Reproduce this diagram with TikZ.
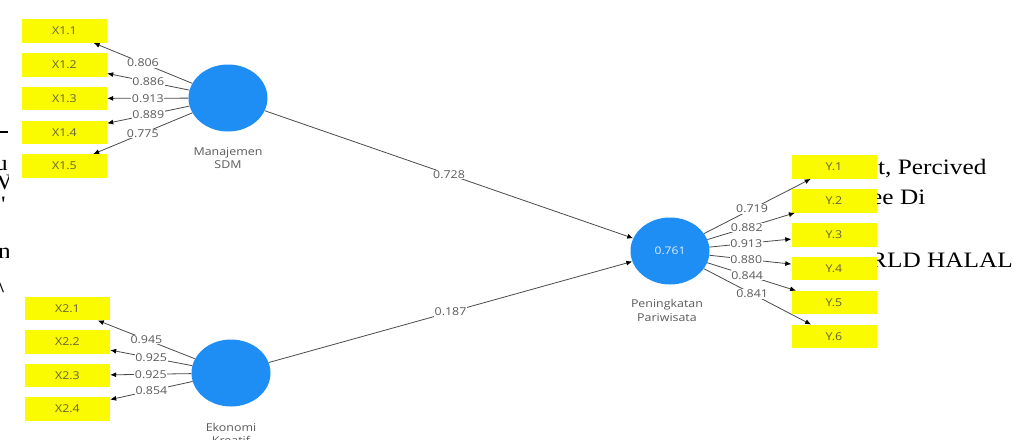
\documentclass[tikz,border=0pt]{standalone}
\usepackage{fontspec}
\usetikzlibrary{arrows.meta,shapes.geometric}
\newfontfamily\plsfont[FakeStretch=1.15]{Open Sans}
\newfontfamily\artfont[FakeStretch=1.15]{Liberation Serif}
\definecolor{lvblue}{RGB}{30,142,245}
\definecolor{indyel}{RGB}{250,250,0}
\definecolor{indtxt}{RGB}{100,100,55}
\definecolor{edgegray}{RGB}{75,75,75}
\definecolor{numgray}{RGB}{90,90,90}
\begin{document}
\begin{tikzpicture}[x=1pt,y=-1pt,
  ind/.style={rectangle,fill=indyel,draw=none,minimum width=85pt,minimum height=23.5pt,inner sep=0pt,font=\plsfont\fontsize{10.8}{12}\selectfont,text=indtxt},
  lv/.style={ellipse,fill=lvblue,draw=none,minimum width=79pt,minimum height=67pt,inner sep=0pt,font=\plsfont\fontsize{10.5}{12}\selectfont,text=white!85!lvblue},
  lvname/.style={font=\plsfont\fontsize{10.8}{13.5}\selectfont,text=numgray,align=center,anchor=north,inner sep=0pt},
  load/.style={draw=edgegray,line width=0.8pt,-{Latex[length=6pt,width=5pt,color=black]}},
  val/.style={fill=white,inner sep=0.8pt,font=\plsfont\fontsize{10.8}{12}\selectfont,text=numgray,pos=0.5},
  art/.style={font=\artfont\fontsize{22}{24}\selectfont,text=black,inner sep=0pt,anchor=base west}
]
\useasboundingbox[fill=white] (0,0) rectangle (1024,439);

% text fragments of the surrounding page
\begin{scope}
  \clip (877,140) rectangle (1024,300);
  \node[art] (a1) at (878,174) {t, Percived};
  \node[art] (a2) at (871,204) {ee Di};
  \node[art] (a3) at (870,267) {RLD HALAL};
\end{scope}
\begin{scope}
  \clip (0,100) rectangle (8,300);
  \coordinate (l1) at (0,132);
  \coordinate (l2) at (7.5,132);
  \draw[line width=1.4pt] (l1) -- (l2);
  \node[art] (b1) at (-5,170) {u};
  \node[art] (b2) at (-12,189) {W};
  \node[art] (b3) at (1,211) {'};
  \node[art] (b4) at (-2,258) {n};
  \node[art] (b5) at (-3,292) {\textbackslash};
\end{scope}

% indicators
\node[ind] (x11) at (64.5,31) {X1.1};
\node[ind] (x12) at (64.5,64.75) {X1.2};
\node[ind] (x13) at (64.5,98.5) {X1.3};
\node[ind] (x14) at (64.5,132.25) {X1.4};
\node[ind] (x15) at (64.5,166) {X1.5};

\node[ind] (x21) at (67.5,308.5) {X2.1};
\node[ind] (x22) at (67.5,342) {X2.2};
\node[ind] (x23) at (67.5,375.5) {X2.3};
\node[ind] (x24) at (67.5,409) {X2.4};

\node[ind] (y1) at (834,167) {Y.1};
\node[ind] (y2) at (834,200.9) {Y.2};
\node[ind] (y3) at (834,234.8) {Y.3};
\node[ind] (y4) at (834,268.7) {Y.4};
\node[ind] (y5) at (834,302.6) {Y.5};
\node[ind] (y6) at (834,336.5) {Y.6};

% latent variables
\node[lv] (msdm) at (228,98) {};
\node[lv] (ek) at (231,373) {};
\node[lv] (pp) at (670,251) {0.761};
\node[lvname] (msdmn) at (228,147) {Manajemen\\SDM};
\node[lvname] (ekn) at (231,423) {Ekonomi\\Kreatif};
\node[lvname] (ppn) at (667,299.5) {Peningkatan\\Pariwisata};

% outer loadings
\draw[load] (msdm) -- node[val]{0.806} (x11);
\draw[load] (msdm) -- node[val]{0.886} (x12);
\draw[load] (msdm) -- node[val]{0.913} (x13);
\draw[load] (msdm) -- node[val]{0.889} (x14);
\draw[load] (msdm) -- node[val]{0.775} (x15);

\draw[load] (ek) -- node[val]{0.945} (x21);
\draw[load] (ek) -- node[val]{0.925} (x22);
\draw[load] (ek) -- node[val]{0.925} (x23);
\draw[load] (ek) -- node[val]{0.854} (x24);

\draw[load] (pp) -- node[val,pos=0.45]{0.719} (y1);
\draw[load] (pp) -- node[val,pos=0.45]{0.882} (y2);
\draw[load] (pp) -- node[val,pos=0.45]{0.913} (y3);
\draw[load] (pp) -- node[val,pos=0.45]{0.880} (y4);
\draw[load] (pp) -- node[val,pos=0.45]{0.844} (y5);
\draw[load] (pp) -- node[val,pos=0.45]{0.841} (y6);

% path coefficients
\draw[load] (msdm) -- node[val]{0.728} (pp);
\draw[load] (ek) -- node[val]{0.187} (pp);
\end{tikzpicture}
\end{document}
